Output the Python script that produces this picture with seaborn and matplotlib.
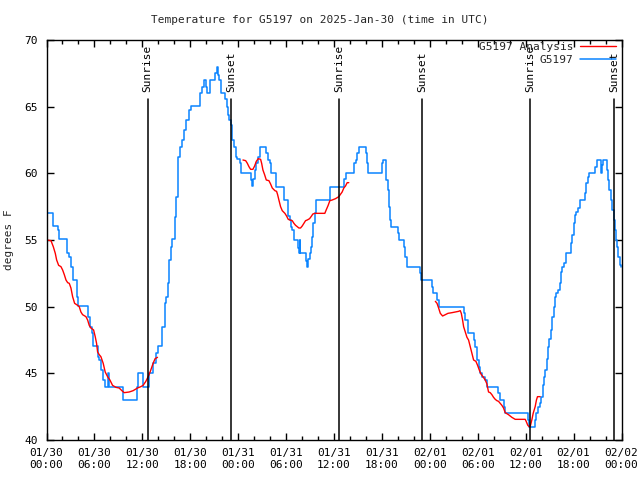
import numpy as np
import pandas as pd
import matplotlib
matplotlib.use("Agg")
import matplotlib.pyplot as plt
import matplotlib.dates as mdates
import seaborn as sns

# ---------------- data (hours after 2025-01-30 00:00 UTC) ----------------
obs_hours = [0.00, 0.85, 1.40, 1.60, 2.56, 2.85, 3.06, 3.27, 3.77, 3.94, 5.19, 5.44, 5.65, 5.81,
             6.40, 6.60, 6.81, 7.10, 7.31, 7.65, 7.85, 9.52, 11.27, 11.52, 12.10, 12.85, 13.35,
             13.69, 13.90, 14.52, 14.81, 15.02, 15.23, 15.35, 15.56, 15.77, 16.06, 16.27, 16.44,
             16.52, 16.73, 17.02, 17.23, 17.44, 17.85, 18.06, 19.19, 19.52, 19.77, 19.98, 20.15,
             20.48, 21.10, 21.31, 21.48, 21.65, 21.85, 22.40, 22.56, 22.73, 22.85, 23.15, 23.27,
             23.48, 23.77, 23.90, 24.19, 24.31, 25.56, 25.69, 25.90, 26.06, 26.27, 26.52, 26.69,
             27.44, 27.69, 27.94, 28.15, 28.77, 29.73, 30.19, 30.27, 30.44, 30.56, 30.77, 31.02,
             31.44, 31.60, 31.69, 31.77, 32.52, 32.65, 32.77, 32.94, 33.10, 33.27, 33.40, 33.56,
             33.69, 35.52, 37.27, 37.44, 38.52, 38.77, 38.94, 39.10, 40.02, 40.15, 40.31, 42.02,
             42.15, 42.48, 42.56, 42.73, 42.85, 42.98, 43.10, 43.98, 44.10, 44.77, 44.94, 45.10,
             46.77, 46.94, 48.27, 48.40, 48.94, 49.10, 52.27, 52.44, 52.77, 53.48, 53.69, 53.90,
             54.10, 54.31, 54.52, 54.94, 55.15, 56.52, 56.73, 57.23, 57.35, 60.27, 60.40, 61.19,
             61.35, 61.56, 61.77, 61.98, 62.15, 62.31, 62.48, 62.65, 62.81, 62.98, 63.15, 63.35,
             63.52, 63.69, 63.85, 64.10, 64.27, 64.44, 64.60, 64.81, 65.02, 65.69, 65.85, 66.02,
             66.19, 66.35, 66.60, 66.77, 67.44, 67.60, 67.77, 67.94, 68.69, 68.90, 69.40, 69.56,
             69.69, 70.15, 70.31, 70.48, 70.65, 70.81, 71.02, 71.19, 71.31, 71.48, 71.60, 71.77,
             71.95]
obs_temps = [57.0, 56.05, 55.75, 55.05, 54.05, 53.75, 53.0, 52.0, 50.75, 50.05, 49.25, 48.5, 48.0, 47.05,
             46.25, 46.0, 45.25, 44.5, 43.95, 45.0, 44.0, 43.0, 44.0, 45.0, 44.0, 45.0, 45.75,
             46.5, 47.05, 48.5, 50.25, 50.75, 51.75, 53.5, 54.5, 55.1, 56.75, 58.25, 60.5,
             61.25, 62.0, 62.5, 63.25, 64.0, 64.75, 65.05, 66.0, 66.5, 67.0, 66.5, 66.0,
             67.0, 67.5, 68.0, 67.4, 67.0, 66.0, 65.6, 65.0, 64.4, 64.0, 63.6, 62.5,
             62.0, 61.25, 61.05, 60.75, 60.0, 59.5, 59.05, 59.6, 60.25, 60.75, 61.25, 62.0,
             61.5, 61.0, 60.75, 60.0, 59.0, 58.0, 57.25, 56.8, 56.5, 56.0, 55.75, 55.0,
             54.4, 54.0, 55.0, 54.0, 53.4, 53.0, 53.6, 54.0, 54.5, 55.25, 56.25, 57.0,
             58.0, 59.0, 59.55, 60.0, 60.75, 61.0, 61.5, 62.0, 61.5, 60.75, 60.0, 60.75,
             61.0, 60.25, 59.5, 58.75, 57.5, 56.5, 56.0, 55.5, 55.0, 54.5, 53.75, 53.0,
             52.5, 52.0, 51.5, 51.0, 50.5, 50.0, 49.5, 49.0, 48.0, 47.5, 47.0, 46.0,
             45.5, 45.0, 44.75, 44.5, 44.0, 43.5, 43.0, 42.5, 42.0, 41.5, 41.0, 41.5,
             42.0, 42.5, 42.75, 43.25, 44.1, 44.75, 45.25, 46.1, 47.0, 47.6, 48.25, 49.25,
             50.0, 50.75, 51.0, 51.25, 51.75, 52.6, 53.0, 53.25, 54.0, 54.75, 55.4, 56.25,
             56.9, 57.1, 57.4, 58.0, 58.5, 59.25, 59.75, 60.0, 60.5, 61.0, 60.0, 60.6,
             61.0, 60.25, 59.5, 58.75, 58.0, 57.25, 56.5, 55.75, 55.0, 54.5, 53.75, 53.1,
             53.0]

ana1_hours = [0.00, 0.56, 0.85, 1.10, 1.27, 1.52, 1.81, 2.02, 2.23, 2.44, 2.65, 2.85, 3.06, 3.27,
              3.52, 3.90, 4.10, 4.31, 4.52, 4.94, 5.15, 5.35, 5.56, 5.90, 6.10, 6.27, 6.40, 6.60,
              6.81, 7.10, 7.35, 7.65, 7.94, 8.27, 8.69, 9.10, 9.44, 9.73, 10.35, 10.85, 11.40,
              11.81, 12.10, 12.44, 12.85, 13.06, 13.35, 13.60, 13.90]
ana1_temps = [55.0, 54.95, 54.5, 54.0, 53.5, 53.1, 53.0, 52.75, 52.4, 52.0, 51.8, 51.75, 51.4, 50.75,
              50.25, 50.1, 50.0, 49.6, 49.4, 49.25, 49.0, 48.6, 48.4, 48.25, 47.75, 47.25, 46.6, 46.4,
              46.25, 45.75, 45.1, 44.75, 44.5, 44.1, 43.95, 43.9, 43.7, 43.55, 43.6, 43.7, 43.9,
              44.0, 44.1, 44.4, 44.9, 45.25, 45.75, 46.1, 46.2]

ana2_hours = [24.60, 24.94, 25.15, 25.35, 25.56, 25.85, 26.06, 26.27, 26.52, 26.81, 26.94, 27.10,
              27.31, 27.52, 27.85, 28.06, 28.27, 28.60, 28.81, 28.94, 29.10, 29.31, 29.52, 29.85,
              30.06, 30.27, 30.48, 30.77, 30.98, 31.19, 31.40, 31.60, 31.81, 32.02, 32.23, 32.44,
              32.65, 32.94, 33.19, 33.35, 33.60, 34.85, 35.02, 35.27, 35.48, 35.77, 36.19, 36.60,
              37.02, 37.23, 37.44, 37.65, 37.85]
ana2_temps = [61.0, 60.95, 60.75, 60.5, 60.3, 60.3, 60.55, 60.9, 61.1, 61.05, 60.75, 60.25,
              59.9, 59.5, 59.45, 59.2, 58.9, 58.7, 58.65, 58.4, 58.0, 57.5, 57.2, 57.0,
              56.8, 56.55, 56.5, 56.45, 56.25, 56.1, 56.0, 55.9, 55.9, 56.05, 56.25, 56.45,
              56.5, 56.6, 56.8, 56.95, 57.0, 57.0, 57.25, 57.6, 57.95, 58.0, 58.1, 58.25,
              58.6, 58.9, 59.05, 59.3, 59.3]

ana3_hours = [48.69, 48.90, 49.10, 49.31, 49.60, 49.94, 50.27, 50.77, 51.19, 51.60, 51.81, 51.94,
              52.10, 52.23, 52.44, 52.65, 52.85, 53.06, 53.27, 53.48, 53.77, 53.98, 54.19, 54.40,
              54.65, 54.94, 55.15, 55.35, 55.56, 55.77, 55.98, 56.19, 56.40, 56.60, 56.81, 57.02,
              57.23, 57.44, 57.85, 58.27, 58.69, 59.94, 60.06, 60.27, 60.44, 60.56, 60.77, 60.94,
              61.19, 61.35, 61.48, 61.81]
ana3_temps = [50.4, 50.25, 49.9, 49.5, 49.3, 49.4, 49.5, 49.55, 49.6, 49.65, 49.7, 49.5,
              49.0, 48.5, 48.1, 47.7, 47.5, 47.0, 46.5, 46.0, 45.9, 45.6, 45.25, 44.95,
              44.75, 44.5, 44.2, 43.6, 43.55, 43.4, 43.2, 43.05, 42.95, 42.9, 42.75, 42.6,
              42.4, 42.05, 41.9, 41.7, 41.55, 41.55, 41.4, 41.1, 41.0, 41.0, 41.5, 42.0,
              42.5, 43.0, 43.25, 43.25]

sun_event_hours = [12.66, 23.09, 36.63, 47.04, 60.54, 71.04]
sun_event_labels = ["Sunrise", "Sunset", "Sunrise", "Sunset", "Sunrise", "Sunset"]

station = "G5197"
title = "Temperature for G5197 on 2025-Jan-30 (time in UTC)"
ylabel = "degrees F"

# ---------------- build frames ----------------
base = pd.Timestamp("2025-01-30 00:00")
def to_time(h):
    return base + pd.to_timedelta(np.asarray(h, dtype=float), unit="h")

obs = pd.DataFrame({"time": to_time(obs_hours), "temp": obs_temps})
ana_segments = [
    pd.DataFrame({"time": to_time(h), "temp": t})
    for h, t in [(ana1_hours, ana1_temps), (ana2_hours, ana2_temps), (ana3_hours, ana3_temps)]
]

# ---------------- plot ----------------
sns.set_theme(style="ticks")
plt.rcParams["font.family"] = ["DejaVu Sans Mono", "DejaVu Sans"]

fig = plt.figure(figsize=(6.4, 4.8), dpi=100)
ax = fig.add_axes([46.5 / 640, 40 / 480, 575 / 640, 400 / 480])

blue = "#0a84ff"
red = "#ff0000"

sns.lineplot(data=obs, x="time", y="temp", ax=ax, color=blue, linewidth=1.1,
             drawstyle="steps-post", label=station, legend=False)
for i, seg in enumerate(ana_segments):
    sns.lineplot(data=seg, x="time", y="temp", ax=ax, color=red, linewidth=1.0,
                 label=(station + " Analysis") if i == 0 else None, legend=False)

x0 = base
x1 = base + pd.Timedelta(hours=72)
ax.set_xlim(x0, x1)
ax.set_ylim(40, 70)

# sunrise / sunset markers
for h, lab in zip(sun_event_hours, sun_event_labels):
    t = base + pd.Timedelta(hours=h)
    ax.plot([t, t], [40, 65.55], color="black", linewidth=1.1)
    ax.text(t, 66.08, lab, rotation=90, ha="center", va="bottom", fontsize=8, color="black")

ax.xaxis.set_major_locator(mdates.HourLocator(byhour=[0, 6, 12, 18]))
ax.xaxis.set_major_formatter(mdates.DateFormatter("%m/%d\n%H:%M"))
ax.xaxis.set_minor_locator(mdates.HourLocator(byhour=list(range(0, 24, 2))))
ax.set_yticks([40, 45, 50, 55, 60, 65, 70])

ax.tick_params(which="both", direction="in", top=True, right=True, labelsize=8, colors="black")
ax.tick_params(which="major", length=5, width=1, pad=6)
ax.tick_params(which="minor", length=3, width=1)
for s in ax.spines.values():
    s.set_linewidth(1.0)
    s.set_color("black")

ax.set_xlabel("")
ax.set_ylabel(ylabel, fontsize=8, labelpad=8)
fig.text(0.5, 1 - 20 / 480, title, ha="center", va="center", fontsize=8)

handles, labels = ax.get_legend_handles_labels()
order = [labels.index(station + " Analysis"), labels.index(station)]
leg = ax.legend([handles[i] for i in order], [labels[i] for i in order],
                loc="upper right", frameon=False, fontsize=8, markerfirst=False,
                handlelength=3.2, handletextpad=0.6, borderaxespad=0.1,
                labelspacing=0.3, bbox_to_anchor=(1.0, 1.01))

fig.savefig("out.png", dpi=100)
